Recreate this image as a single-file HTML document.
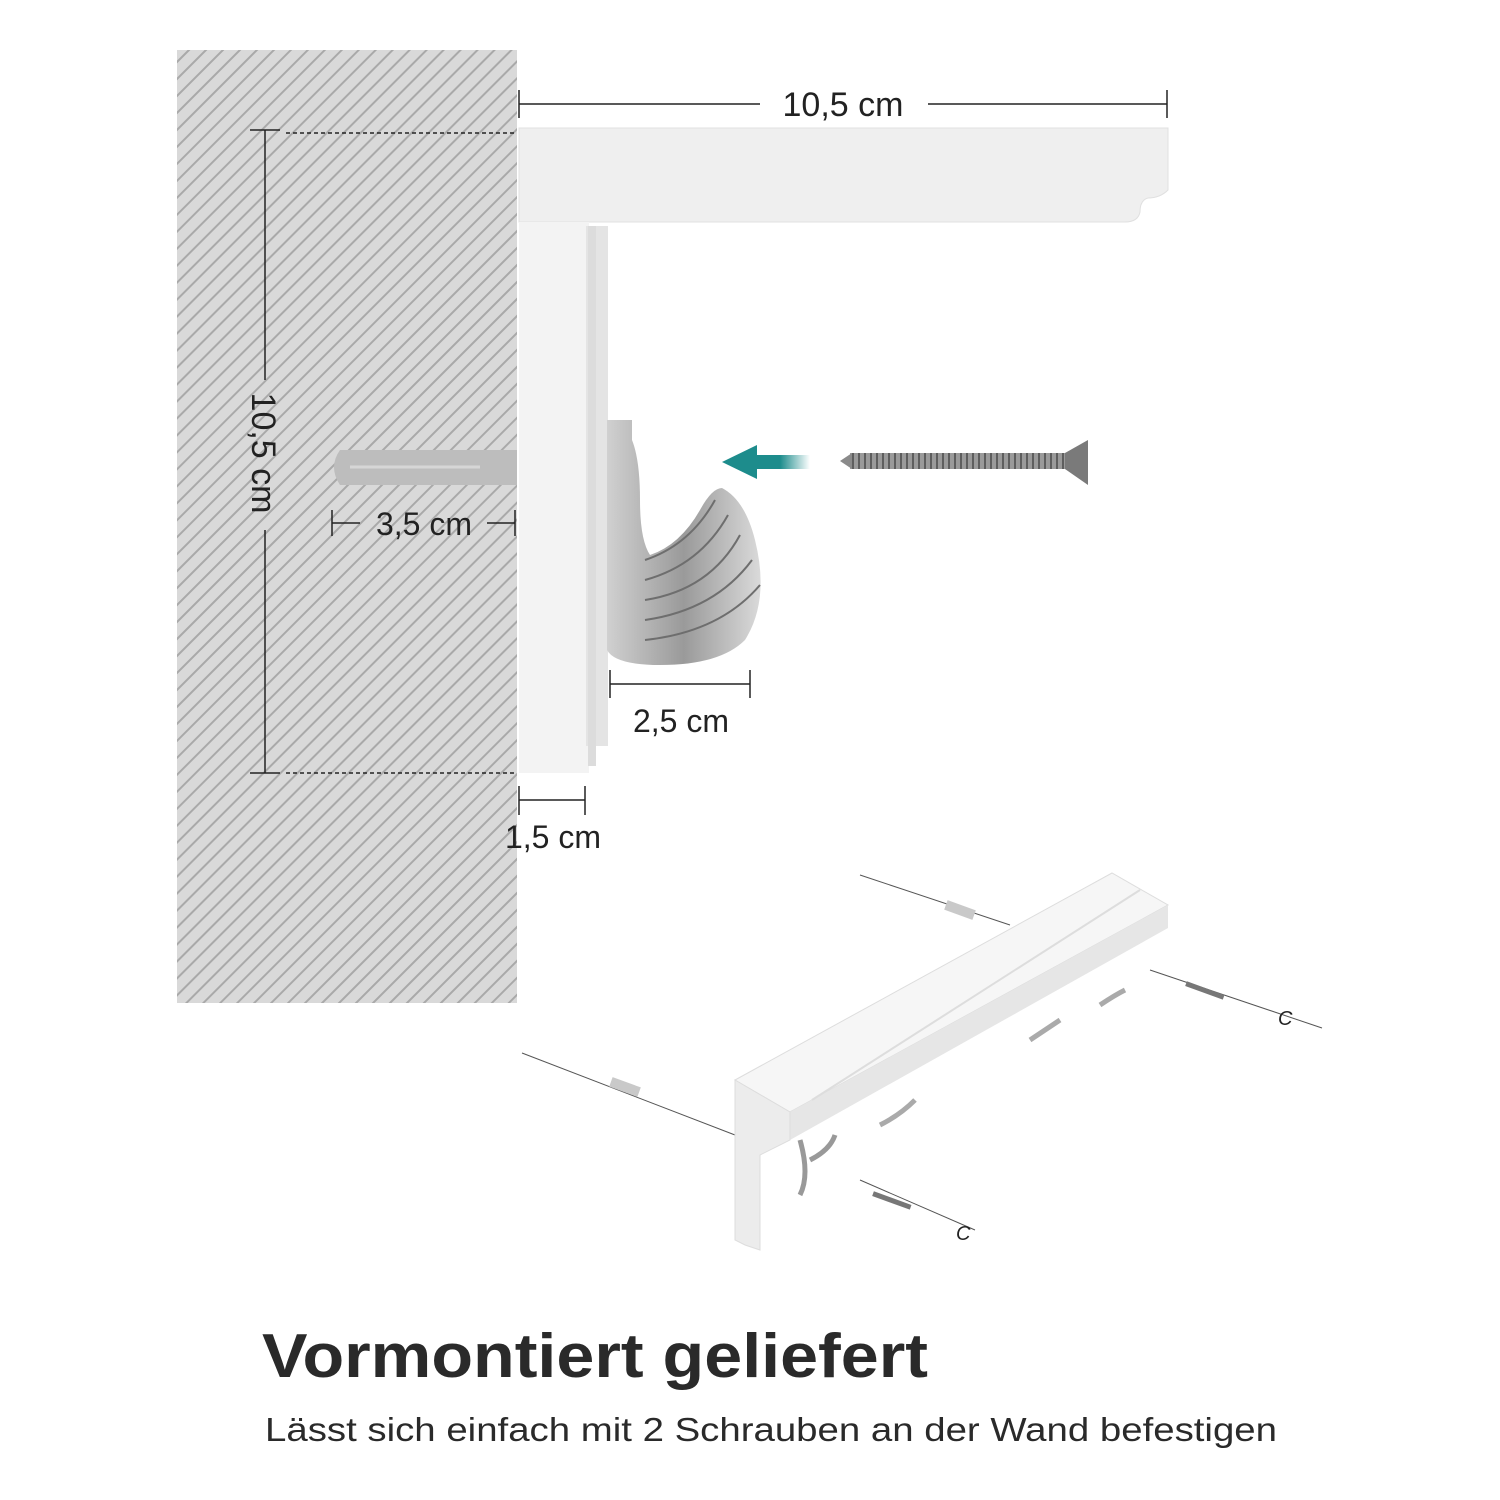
<!DOCTYPE html>
<html><head><meta charset="utf-8"><style>
html,body{margin:0;padding:0;background:#fff;}
svg{display:block}
</style></head><body>
<svg width="1500" height="1500" viewBox="0 0 1500 1500" xmlns="http://www.w3.org/2000/svg" font-family="Liberation Sans, sans-serif">
<defs>
<pattern id="h" width="12" height="12" patternUnits="userSpaceOnUse" patternTransform="rotate(45)">
<rect width="12" height="12" fill="#d9d9d9"/><rect x="0" y="0" width="2" height="12" fill="#a9a9a9"/>
</pattern>
<pattern id="thr" width="6" height="20" patternUnits="userSpaceOnUse">
<rect width="6" height="20" fill="#9a9a9a"/><rect x="0" y="0" width="2" height="20" fill="#5e5e5e"/>
</pattern>
<linearGradient id="ar" x1="0" x2="1"><stop offset="0.5" stop-color="#1d8c8c"/><stop offset="1" stop-color="#1d8c8c" stop-opacity="0"/></linearGradient>
<linearGradient id="met" x1="0" x2="1"><stop offset="0" stop-color="#d0d0d0"/><stop offset="0.5" stop-color="#9a9a9a"/><stop offset="1" stop-color="#dadada"/></linearGradient>
</defs>
<rect x="177" y="50" width="340" height="953" fill="url(#h)"/>
<!-- top dimension -->
<line x1="519" y1="104" x2="760" y2="104" stroke="#222" stroke-width="1.5"/>
<line x1="928" y1="104" x2="1167" y2="104" stroke="#222" stroke-width="1.5"/>
<line x1="519" y1="90" x2="519" y2="118" stroke="#222" stroke-width="1.5"/>
<line x1="1167" y1="90" x2="1167" y2="118" stroke="#222" stroke-width="1.5"/>
<text x="843" y="116" font-size="34" text-anchor="middle" fill="#222">10,5 cm</text>
<!-- shelf top -->
<path d="M519 128 H1168 V190 Q1160 198 1148 198 Q1140 200 1140 212 Q1138 222 1125 222 H519 Z" fill="#efefef" stroke="#e0e0e0"/>
<!-- vertical piece -->
<rect x="519" y="222" width="70" height="551" fill="#f3f3f3"/>
<rect x="586" y="226" width="22" height="520" fill="#e4e4e4"/>
<rect x="588" y="226" width="8" height="540" fill="#dcdcdc"/>
<!-- hooks -->
<path d="M607 420 H632 V440 Q640 460 640 500 Q640 540 650 555 Q680 545 700 510 Q712 488 722 488 Q745 500 755 540 Q770 600 745 640 Q720 665 660 665 Q615 665 607 650 Z" fill="url(#met)"/>
<g stroke="#6e6e6e" stroke-width="2" fill="none">
<path d="M645 560 Q690 545 715 500"/><path d="M645 580 Q700 565 728 515"/><path d="M645 600 Q710 590 740 535"/><path d="M645 620 Q715 610 752 560"/><path d="M645 640 Q720 632 760 585"/>
</g>
<!-- dowel -->
<path d="M340 450 H517 V485 H340 Q328 467 340 450Z" fill="#bdbdbd"/>
<line x1="350" y1="467" x2="480" y2="467" stroke="#d6d6d6" stroke-width="3"/>
<!-- arrow -->
<rect x="750" y="455" width="60" height="14" fill="url(#ar)"/>
<polygon points="722,462 757,445 757,479" fill="#1d8c8c"/>
<!-- screw -->
<rect x="850" y="453" width="215" height="16" fill="url(#thr)"/>
<polygon points="840,461 852,453 852,469" fill="#8a8a8a"/>
<polygon points="1065,453 1088,440 1088,485 1065,469" fill="#7a7a7a"/>
<!-- vertical dimension -->
<line x1="265" y1="130" x2="265" y2="380" stroke="#222" stroke-width="1.5"/>
<line x1="265" y1="530" x2="265" y2="773" stroke="#222" stroke-width="1.5"/>
<line x1="250" y1="130" x2="280" y2="130" stroke="#222" stroke-width="1.5"/>
<line x1="250" y1="773" x2="280" y2="773" stroke="#222" stroke-width="1.5"/>
<line x1="286" y1="133" x2="517" y2="133" stroke="#222" stroke-width="1.5" stroke-dasharray="4 3"/>
<line x1="286" y1="773" x2="517" y2="773" stroke="#222" stroke-width="1.5" stroke-dasharray="4 3"/>
<text x="0" y="0" font-size="34" fill="#222" text-anchor="middle" transform="translate(252,453) rotate(90)">10,5 cm</text>
<!-- 3.5 -->
<line x1="332" y1="510" x2="332" y2="536" stroke="#222" stroke-width="1.5"/>
<line x1="515" y1="510" x2="515" y2="536" stroke="#222" stroke-width="1.5"/>
<line x1="332" y1="523" x2="360" y2="523" stroke="#222" stroke-width="1.5"/>
<line x1="487" y1="523" x2="515" y2="523" stroke="#222" stroke-width="1.5"/>
<text x="424" y="535" font-size="32" fill="#222" text-anchor="middle">3,5 cm</text>
<!-- 2.5 -->
<line x1="610" y1="670" x2="610" y2="698" stroke="#222" stroke-width="1.5"/>
<line x1="750" y1="670" x2="750" y2="698" stroke="#222" stroke-width="1.5"/>
<line x1="610" y1="684" x2="750" y2="684" stroke="#222" stroke-width="1.5"/>
<text x="681" y="732" font-size="32" fill="#222" text-anchor="middle">2,5 cm</text>
<!-- 1.5 -->
<line x1="519" y1="786" x2="519" y2="815" stroke="#222" stroke-width="1.5"/>
<line x1="585" y1="786" x2="585" y2="815" stroke="#222" stroke-width="1.5"/>
<line x1="519" y1="800" x2="585" y2="800" stroke="#222" stroke-width="1.5"/>
<text x="553" y="848" font-size="32" fill="#222" text-anchor="middle">1,5 cm</text>
<!-- iso shelf -->
<g stroke="#555" stroke-width="1">
<line x1="860" y1="875" x2="1010" y2="925"/>
<line x1="522" y1="1053" x2="735" y2="1135"/>
<line x1="1150" y1="970" x2="1322" y2="1028"/>
<line x1="860" y1="1180" x2="975" y2="1230"/>
</g>
<polygon points="735,1080 1112,873 1168,905 790,1112" fill="#f6f6f6" stroke="#ddd"/>
<polygon points="790,1112 1168,905 1168,928 790,1140" fill="#e6e6e6"/>
<polygon points="735,1080 790,1112 790,1140 760,1155 760,1250 745,1245 735,1240" fill="#ececec" stroke="#ddd"/>
<line x1="812" y1="1100" x2="1140" y2="890" stroke="#ddd" stroke-width="2"/>
<path d="M800 1140 Q810 1175 800 1195 M810 1160 Q830 1150 835 1135" stroke="#999" stroke-width="5" fill="none"/>
<path d="M880 1125 Q900 1115 915 1100 M1030 1040 Q1045 1030 1060 1020 M1100 1005 Q1115 995 1125 990" stroke="#aaa" stroke-width="5" fill="none"/>
<rect x="610" y="1082" width="30" height="10" fill="#c9c9c9" transform="rotate(20 625 1087)"/>
<rect x="945" y="905" width="30" height="10" fill="#c9c9c9" transform="rotate(20 960 910)"/>
<rect x="1185" y="988" width="40" height="5" fill="#777" transform="rotate(20 1205 990)"/>
<rect x="872" y="1198" width="40" height="5" fill="#777" transform="rotate(20 892 1200)"/>
<text x="1278" y="1025" font-size="20" fill="#222" font-style="italic">C</text>
<text x="956" y="1240" font-size="20" fill="#222" font-style="italic">C</text>
<!-- text -->
<text x="262" y="1377" font-size="62" font-weight="bold" fill="#2a2a2a" textLength="666" lengthAdjust="spacingAndGlyphs">Vormontiert geliefert</text>
<text x="265" y="1441" font-size="33" fill="#2a2a2a" textLength="1012" lengthAdjust="spacingAndGlyphs">Lässt sich einfach mit 2 Schrauben an der Wand befestigen</text>
</svg>
</body></html>
